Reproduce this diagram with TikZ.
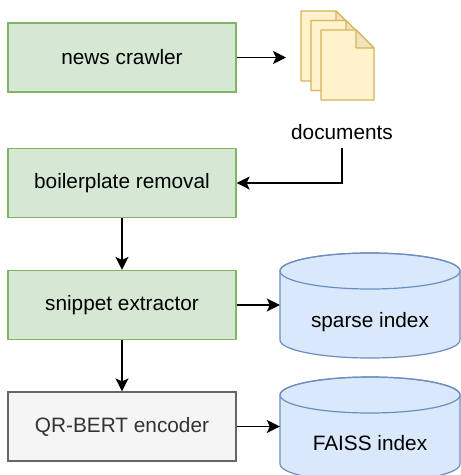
\documentclass[tikz,border=0pt]{standalone}
\usepackage{fontspec}
\setmainfont{Liberation Sans}
\usepackage{xcolor}
\usetikzlibrary{arrows.meta}
\definecolor{stagefill}{HTML}{D5E8D4}
\definecolor{stageline}{HTML}{82B366}
\definecolor{encfill}{HTML}{F5F5F5}
\definecolor{encline}{HTML}{666666}
\definecolor{enctext}{HTML}{333333}
\definecolor{dbfill}{HTML}{DAE8FC}
\definecolor{dbline}{HTML}{6C8EBF}
\definecolor{pagefill}{HTML}{FFF2CC}
\definecolor{pageline}{HTML}{D6B656}
\definecolor{foldfill}{HTML}{F0E3BE}
\tikzset{stagebox/.style={draw=stageline,fill=stagefill,line width=1.2pt,minimum width=228pt,minimum height=69pt,font=\fontsize{20.8}{25}\selectfont}}
\tikzset{encbox/.style={stagebox,draw=encline,fill=encfill,text=enctext}}
\tikzset{dbstyle/.style={draw=dbline,fill=dbfill,line width=1.2pt}}
\tikzset{pagestyle/.style={draw=pageline,fill=pagefill,line width=1.2pt,line join=round}}
\tikzset{flow/.style={-{Stealth[length=13pt,width=13pt,inset=3pt]},line width=1.5pt}}

\begin{document}
\begin{tikzpicture}[x=1pt,y=-1pt]
  \useasboundingbox (0,0) rectangle (461,475);
  \clip (0,0) rectangle (461,475);

  % stages
  \node [stagebox] (crawler) at (122,57.5)  {news crawler};
  \node [stagebox] (boiler)  at (122,183)   {boilerplate removal};
  \node [stagebox] (snippet) at (122,305)   {snippet extractor};
  \node [encbox]   (qrbert)  at (122,426.5) {QR-BERT encoder};

  % documents
  \foreach \dx/\dy in {301/11,311/20.5,321/30} {
    \filldraw [pagestyle] (\dx,\dy) -- ++(35,0) -- ++(18,18) -- ++(0,52) -- ++(-53,0) -- cycle;
    \filldraw [pagestyle,fill=foldfill] (\dx+35,\dy) -- ++(0,18) -- ++(18,0) -- cycle;
  }
  \coordinate (docin) at (286,57.5);
  \node [font=\fontsize{20.8}{25}\selectfont] (docs) at (342,132) {documents};

  % indexes
  \filldraw [dbstyle] (280,271) -- (280,340) arc [start angle=180,end angle=0,x radius=90,y radius=18]
    -- (460,271) arc [start angle=0,end angle=-180,x radius=90,y radius=18] -- cycle;
  \draw [dbstyle,fill=none] (370,271) ellipse [x radius=90,y radius=18];
  \filldraw [dbstyle] (280,395) -- (280,464) arc [start angle=180,end angle=0,x radius=90,y radius=18]
    -- (460,395) arc [start angle=0,end angle=-180,x radius=90,y radius=18] -- cycle;
  \draw [dbstyle,fill=none] (370,395) ellipse [x radius=90,y radius=18];
  \node [minimum width=180pt,minimum height=105pt,inner sep=0pt] (sparse) at (370,305) {};
  \node [minimum width=180pt,minimum height=105pt,inner sep=0pt] (faiss)  at (370,426.5) {};
  \node [font=\fontsize{20.8}{25}\selectfont] (sparselabel) at (370,322) {sparse index};
  \node [font=\fontsize{20.8}{25}\selectfont] (faisslabel)  at (370,443) {FAISS index};

  % connectors
  \draw [flow] (crawler) -- (docin);
  \draw [flow,shorten <=5pt] (docs.south) |- (boiler.east);
  \draw [flow] (boiler) -- (snippet);
  \draw [flow] (snippet) -- (qrbert);
  \draw [flow] (snippet) -- (sparse);
  \draw [flow] (qrbert) -- (faiss);
\end{tikzpicture}
\end{document}
